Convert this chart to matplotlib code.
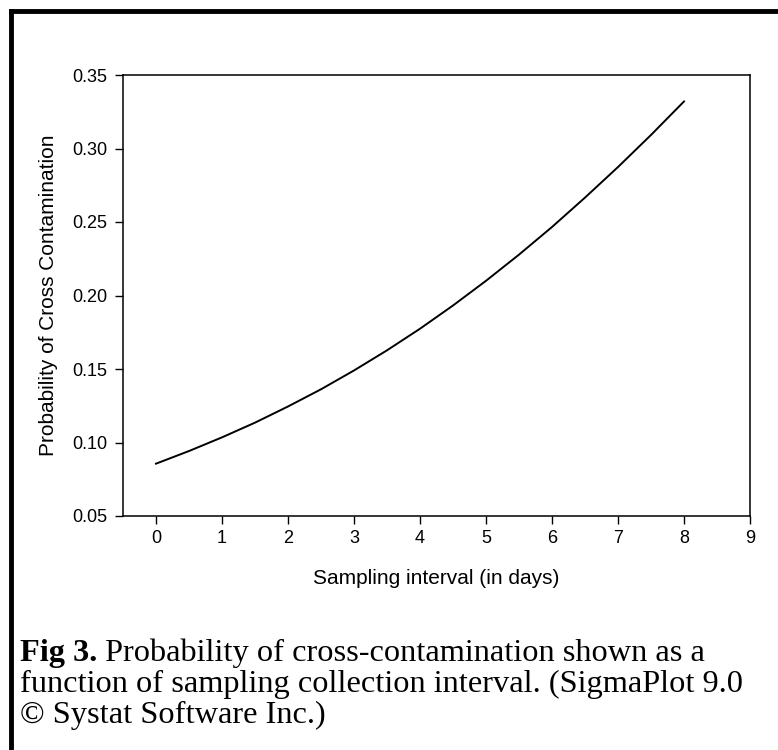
import matplotlib
matplotlib.use("Agg")
from matplotlib import pyplot as plt
from matplotlib.lines import Line2D

# curve values (every half day)
days = [0, 0.5, 1, 1.5, 2, 2.5, 3, 3.5, 4, 4.5, 5, 5.5, 6, 6.5, 7, 7.5, 8]
prob = [0.0856, 0.0942, 0.1035, 0.1135, 0.1245, 0.1362, 0.1490, 0.1627,
        0.1774, 0.1932, 0.2100, 0.2278, 0.2466, 0.2666, 0.2874, 0.3092, 0.3320]

xticks = list(range(0, 10))
yticks = [0.05, 0.10, 0.15, 0.20, 0.25, 0.30, 0.35]

caption_bold = "Fig 3."
caption_lines = [" Probability of cross-contamination shown as a",
                 "function of sampling collection interval. (SigmaPlot 9.0",
                 "\u00a9 Systat Software Inc.)"]

W, H = 778, 750
plt.rcParams['font.family'] = ['Liberation Sans', 'DejaVu Sans']

fig = plt.figure(figsize=(W / 100, H / 100), dpi=100)
ax = fig.add_axes([123 / W, 1 - 516 / H, (750 - 123) / W, (516 - 75) / H])

ax.plot(days, prob, color='k', linewidth=1.4)
ax.set_xlim(-0.5, 9)
ax.set_ylim(0.05, 0.35)
ax.set_xticks(xticks)
ax.set_yticks(yticks)
ax.set_yticklabels(["%.2f" % v for v in yticks])
ax.tick_params(direction='out', length=5.5, width=1, labelsize=13, colors='k')
ax.tick_params(axis='x', pad=4.5)
ax.tick_params(axis='y', pad=5.5)
for s in ax.spines.values():
    s.set_linewidth(1.1)

ax.set_xlabel("Sampling interval (in days)", fontsize=15, labelpad=16)
ax.set_ylabel("Probability of Cross Contamination", fontsize=15, labelpad=10.5)

# thick frame on top and left
fig.add_artist(Line2D([11 / W, 1], [1 - 11 / H, 1 - 11 / H], color='k', linewidth=3.5,
                      transform=fig.transFigure, solid_capstyle='projecting'))
fig.add_artist(Line2D([11 / W, 11 / W], [0, 1 - 11 / H], color='k', linewidth=3.5,
                      transform=fig.transFigure, solid_capstyle='projecting'))

# caption
cap_font = ['Liberation Serif', 'DejaVu Serif']
cap_size = 23.3
bases = [661, 692, 723]
t = fig.text(20 / W, 1 - bases[0] / H, caption_bold, fontsize=cap_size,
             fontweight='bold', family=cap_font, va='baseline', ha='left')
fig.canvas.draw()
bb = t.get_window_extent()
x_after = bb.x1 / W
fig.text(x_after, 1 - bases[0] / H, caption_lines[0], fontsize=cap_size,
         family=cap_font, va='baseline', ha='left')
for line, b in zip(caption_lines[1:], bases[1:]):
    fig.text(20 / W, 1 - b / H, line, fontsize=cap_size, family=cap_font,
             va='baseline', ha='left')

fig.savefig("out.png", dpi=100)
